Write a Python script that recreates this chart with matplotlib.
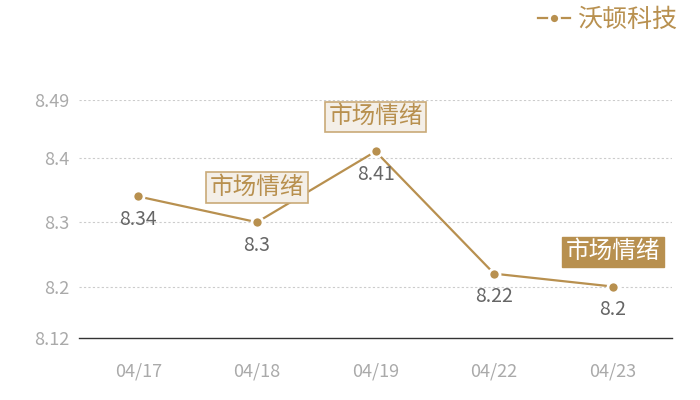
import matplotlib.pyplot as plt

plt.rcParams['font.family'] = ['Noto Sans CJK SC', 'DejaVu Sans']

dates = ['04/17', '04/18', '04/19', '04/22', '04/23']
prices = [8.34, 8.3, 8.41, 8.22, 8.2]
price_labels = ['8.34', '8.3', '8.41', '8.22', '8.2']
yticks = [8.12, 8.2, 8.3, 8.4, 8.49]
ytick_labels = ['8.12', '8.2', '8.3', '8.4', '8.49']
series_name = '沃顿科技'
mark_text = '市场情绪'
mark_idx = [1, 2, 4]
mark_dark = [False, False, True]

gold = '#b8904f'

fig = plt.figure(figsize=(7, 4), dpi=100)
ax = fig.add_axes([0.113, 0.155, 0.847, 0.595])

x = list(range(len(dates)))
ax.plot(x, prices, color=gold, lw=1.6, marker='o', ms=8,
        mfc=gold, mec='white', mew=2, label=series_name, zorder=3)

for xi, p, lab in zip(x, prices, price_labels):
    ax.annotate(lab, (xi, p), xytext=(0, -16.5), textcoords='offset points',
                ha='center', va='center', fontsize=14, color='#666666')

for i, dark in zip(mark_idx, mark_dark):
    if dark:
        box = dict(boxstyle='square,pad=0.15', fc=gold, ec=gold, lw=1)
        tc = 'white'
    else:
        box = dict(boxstyle='square,pad=0.15', fc='#f4efe8', ec='#c9aa78', lw=1.2)
        tc = gold
    ax.annotate(mark_text, (i, prices[i]), xytext=(0, 25), textcoords='offset points',
                ha='center', va='center', fontsize=17, color=tc, bbox=box, zorder=4)

ax.set_xlim(-0.5, len(dates) - 0.5)
ax.set_ylim(8.12, 8.49)
ax.set_xticks(x)
ax.set_xticklabels(dates)
ax.set_yticks(yticks)
ax.set_yticklabels(ytick_labels)
ax.tick_params(length=0, labelsize=13, colors='#aaaaaa', pad=7)
ax.tick_params(axis='x', pad=18)
for yv in yticks[1:]:
    ax.axhline(yv, color='#cccccc', lw=0.8, ls=(0, (2, 2)), zorder=1)
for s in ['top', 'right', 'left']:
    ax.spines[s].set_visible(False)
ax.spines['bottom'].set_color('#333333')
ax.spines['bottom'].set_linewidth(1)

leg = fig.legend(loc='upper right', bbox_to_anchor=(1.0, 1.04), frameon=False,
                 fontsize=18, handlelength=1.3, handletextpad=0.3, markerscale=0.9)
for t in leg.get_texts():
    t.set_color(gold)

fig.savefig('out.png', dpi=100)
